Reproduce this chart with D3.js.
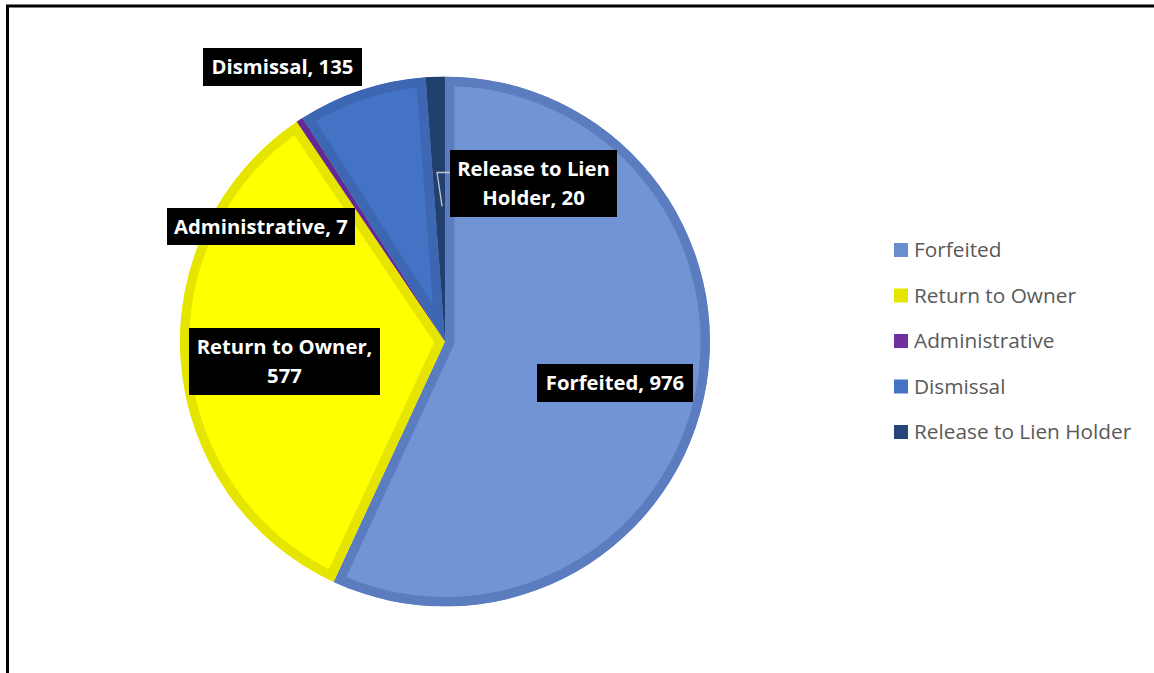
<!DOCTYPE html>
<html><head><meta charset="utf-8">
<script src="https://cdn.jsdelivr.net/npm/d3@7/dist/d3.min.js"></script>
<style>html,body{margin:0;padding:0;background:#fff;}svg{display:block;}</style>
</head><body>
<svg id="c" width="1154" height="673"></svg>
<script>
const categories = ["Forfeited", "Return to Owner", "Administrative", "Dismissal", "Release to Lien Holder"];
const values = [976, 577, 7, 135, 20];
const fills = ["#7094d4", "#ffff00", "#7030a0", "#4472c4", "#264478"];
const strokes = ["#5b7dbf", "#e5e500", "#642a92", "#3e67b3", "#22406f"];
const legendColors = ["#6a8dcf", "#e5e500", "#7030a0", "#4472c4", "#264478"];
// label boxes: [cx, cy, w, h, lines]
const labelLayout = [
  {cx: 615, cy: 383, w: 156, h: 38, lines: ["Forfeited, 976"]},
  {cx: 284.5, cy: 361.5, w: 191, h: 67, lines: ["Return to Owner,", "577"]},
  {cx: 261, cy: 226.5, w: 188, h: 37, lines: ["Administrative, 7"]},
  {cx: 282.5, cy: 67, w: 159, h: 38, lines: ["Dismissal, 135"]},
  {cx: 533.5, cy: 183.5, w: 167, h: 67, lines: ["Release to Lien", "Holder, 20"]}
];

const svg = d3.select("#c");
svg.append("rect").attr("x", 7.5).attr("y", 6).attr("width", 1160).attr("height", 700)
  .attr("fill", "#fff").attr("stroke", "#000").attr("stroke-width", 3);

const cx = 445, cy = 341.5, r = 265;
const pie = d3.pie().sort(null).value(d => d)(values);
const arc = d3.arc().innerRadius(0).outerRadius(r);
const defs = svg.append("defs");
pie.forEach((d, i) => {
  defs.append("clipPath").attr("id", "clip" + i).append("path").attr("d", arc(d));
});
const g = svg.append("g").attr("transform", `translate(${cx},${cy})`);
g.selectAll("path").data(pie).join("path")
  .attr("d", arc)
  .attr("clip-path", (d, i) => `url(#clip${i})`)
  .attr("fill", (d, i) => fills[i])
  .attr("stroke", (d, i) => strokes[i])
  .attr("stroke-width", 19)
  .attr("stroke-linejoin", "miter");

// leader line for Release to Lien Holder
const rel = pie[4];
const midA = (rel.startAngle + rel.endAngle) / 2;
const px = Math.sin(midA) * r * 0.51, py = -Math.cos(midA) * r * 0.51;
const lb = labelLayout[4];
const boxLeft = lb.cx - lb.w / 2 - cx;
const yTop = lb.cy - 11 - cy;
svg.append("polyline")
  .attr("transform", `translate(${cx},${cy})`)
  .attr("points", `${boxLeft},${yTop} ${px - 3},${yTop} ${px + 2},${py}`)
  .attr("fill", "none").attr("stroke", "#c8c8c8").attr("stroke-width", 1.3);

// labels
const lab = svg.append("g");
labelLayout.forEach((L, i) => {
  lab.append("rect").attr("x", L.cx - L.w / 2).attr("y", L.cy - L.h / 2)
    .attr("width", L.w).attr("height", L.h).attr("fill", "#000");
  const lh = 29;
  L.lines.forEach((t, k) => {
    lab.append("text").attr("x", L.cx)
      .attr("y", L.cy + (k - (L.lines.length - 1) / 2) * lh)
      .attr("dy", "0.36em").attr("text-anchor", "middle")
      .attr("font-family", "'Open Sans', Lato, sans-serif").attr("font-weight", "bold")
      .attr("font-size", 20.3).attr("fill", "#fff").text(t);
  });
});

// legend
const leg = svg.append("g").attr("transform", "translate(894,250)");
categories.forEach((c, i) => {
  const row = leg.append("g").attr("transform", `translate(0,${i * 45.5})`);
  row.append("rect").attr("x", 0).attr("y", -7).attr("width", 14).attr("height", 14)
    .attr("fill", legendColors[i]);
  row.append("text").attr("x", 20).attr("y", 0).attr("dy", "0.35em")
    .attr("font-family", "'Open Sans', Lato, sans-serif").attr("font-size", 20.8)
    .attr("fill", "#595959").text(c);
});
</script>
</body></html>
